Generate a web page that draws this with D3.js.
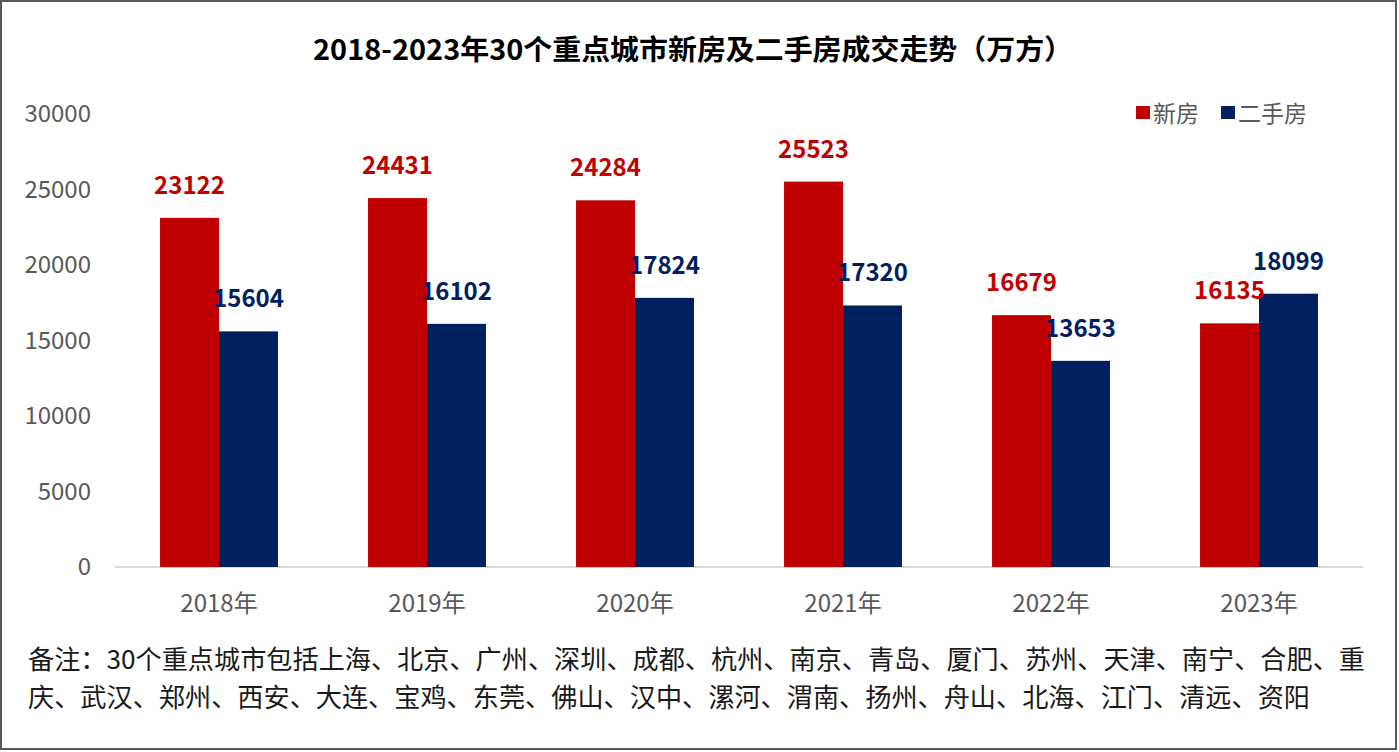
<!DOCTYPE html>
<html>
<head>
<meta charset="utf-8">
<script src="https://cdn.jsdelivr.net/npm/d3@7"></script>
<style>
  html, body { margin: 0; padding: 0; background: #fff; }
  svg { display: block; font-family: "Noto Sans CJK SC", "Noto Sans", sans-serif; }
</style>
</head>
<body>
<script>
// data
var years = ['2018年', '2019年', '2020年', '2021年', '2022年', '2023年'];
var newHouse = [23122, 24431, 24284, 25523, 16679, 16135];
var secondHand = [15604, 16102, 17824, 17320, 13653, 18099];
var seriesNames = ['新房', '二手房'];
var yTicks = [0, 5000, 10000, 15000, 20000, 25000, 30000];
var title = '2018-2023年30个重点城市新房及二手房成交走势（万方）';
var noteLines = [
  '备注：30个重点城市包括上海、北京、广州、深圳、成都、杭州、南京、青岛、厦门、苏州、天津、南宁、合肥、重',
  '庆、武汉、郑州、西安、大连、宝鸡、东莞、佛山、汉中、漯河、渭南、扬州、舟山、北海、江门、清远、资阳'
];

var W = 1399, H = 752;
var colours = ['#C00000', '#002060'];

var svg = d3.select('body').append('svg')
    .attr('width', W)
    .attr('height', H);

// frame
svg.append('rect')
    .attr('x', 1).attr('y', 1)
    .attr('width', W - 4).attr('height', H - 4)
    .attr('fill', '#fff')
    .attr('stroke', '#595959')
    .attr('stroke-width', 2);

var x0 = d3.scaleBand()
    .domain(years)
    .range([115, 1363])
    .paddingInner(0.433)
    .paddingOuter(0.2165);

var x1 = d3.scaleBand()
    .domain(seriesNames)
    .range([0, x0.bandwidth()]);

var y = d3.scaleLinear()
    .domain([0, 30000])
    .range([567, 114]);

// title
svg.append('text')
    .attr('x', 313).attr('y', 60)
    .attr('font-size', 28)
    .attr('font-weight', 'bold')
    .attr('fill', '#000')
    .attr('textLength', 760)
    .attr('lengthAdjust', 'spacingAndGlyphs')
    .text(title);

// y axis (labels only)
var yAxis = svg.append('g')
    .attr('transform', 'translate(91,0)')
    .call(d3.axisLeft(y).tickValues(yTicks).tickSize(0).tickPadding(0).tickFormat(d3.format('d')));
yAxis.select('.domain').remove();
yAxis.selectAll('text')
    .attr('font-size', 24)
    .attr('fill', '#595959')
    .attr('font-family', '"Noto Sans CJK SC", sans-serif');

// x axis
var xAxis = svg.append('g')
    .attr('transform', 'translate(0,' + y(0) + ')')
    .call(d3.axisBottom(x0).tickSize(0).tickPadding(28));
xAxis.select('.domain')
    .attr('stroke', '#D9D9D9')
    .attr('stroke-width', 2)
    .attr('d', 'M115,0H1363');
xAxis.selectAll('text')
    .attr('font-size', 24)
    .attr('fill', '#595959')
    .attr('font-family', '"Noto Sans CJK SC", sans-serif');

// bars
var rows = years.map(function(yr, i) {
  return { year: yr, vals: [newHouse[i], secondHand[i]] };
});

var groups = svg.selectAll('.grp')
    .data(rows)
    .enter().append('g')
    .attr('class', 'grp')
    .attr('transform', function(d) { return 'translate(' + x0(d.year) + ',0)'; });

groups.selectAll('rect')
    .data(function(d) { return d.vals.map(function(v, j) { return { k: seriesNames[j], v: v, j: j }; }); })
    .enter().append('rect')
    .attr('x', function(d) { return x1(d.k); })
    .attr('y', function(d) { return y(d.v); })
    .attr('width', x1.bandwidth())
    .attr('height', function(d) { return y(0) - y(d.v); })
    .attr('fill', function(d) { return colours[d.j]; });

// value labels
groups.selectAll('.lbl')
    .data(function(d) { return d.vals.map(function(v, j) { return { k: seriesNames[j], v: v, j: j }; }); })
    .enter().append('text')
    .attr('class', 'lbl')
    .attr('x', function(d) { return x1(d.k) + x1.bandwidth() / 2; })
    .attr('y', function(d) { return y(d.v) - 24; })
    .attr('text-anchor', 'middle')
    .attr('font-size', 24)
    .attr('font-weight', 'bold')
    .attr('fill', function(d) { return colours[d.j]; })
    .text(function(d) { return d.v; });

// legend
var legend = svg.append('g').attr('transform', 'translate(1136,113)');
var legX = [0, 85];
seriesNames.forEach(function(name, i) {
  legend.append('rect')
      .attr('x', legX[i]).attr('y', -7)
      .attr('width', 14).attr('height', 13)
      .attr('fill', colours[i]);
  legend.append('text')
      .attr('x', legX[i] + 17).attr('y', 9)
      .attr('font-size', 23)
      .attr('fill', '#595959')
      .text(name);
});

// note
var noteLen = [1337, 1282];
svg.selectAll('.note')
    .data(noteLines)
    .enter().append('text')
    .attr('class', 'note')
    .attr('x', 28)
    .attr('y', function(d, i) { return 669 + i * 38; })
    .attr('font-size', 26)
    .attr('fill', '#1a1a1a')
    .attr('textLength', function(d, i) { return noteLen[i]; })
    .attr('lengthAdjust', 'spacingAndGlyphs')
    .text(function(d) { return d; });
</script>
</body>
</html>
